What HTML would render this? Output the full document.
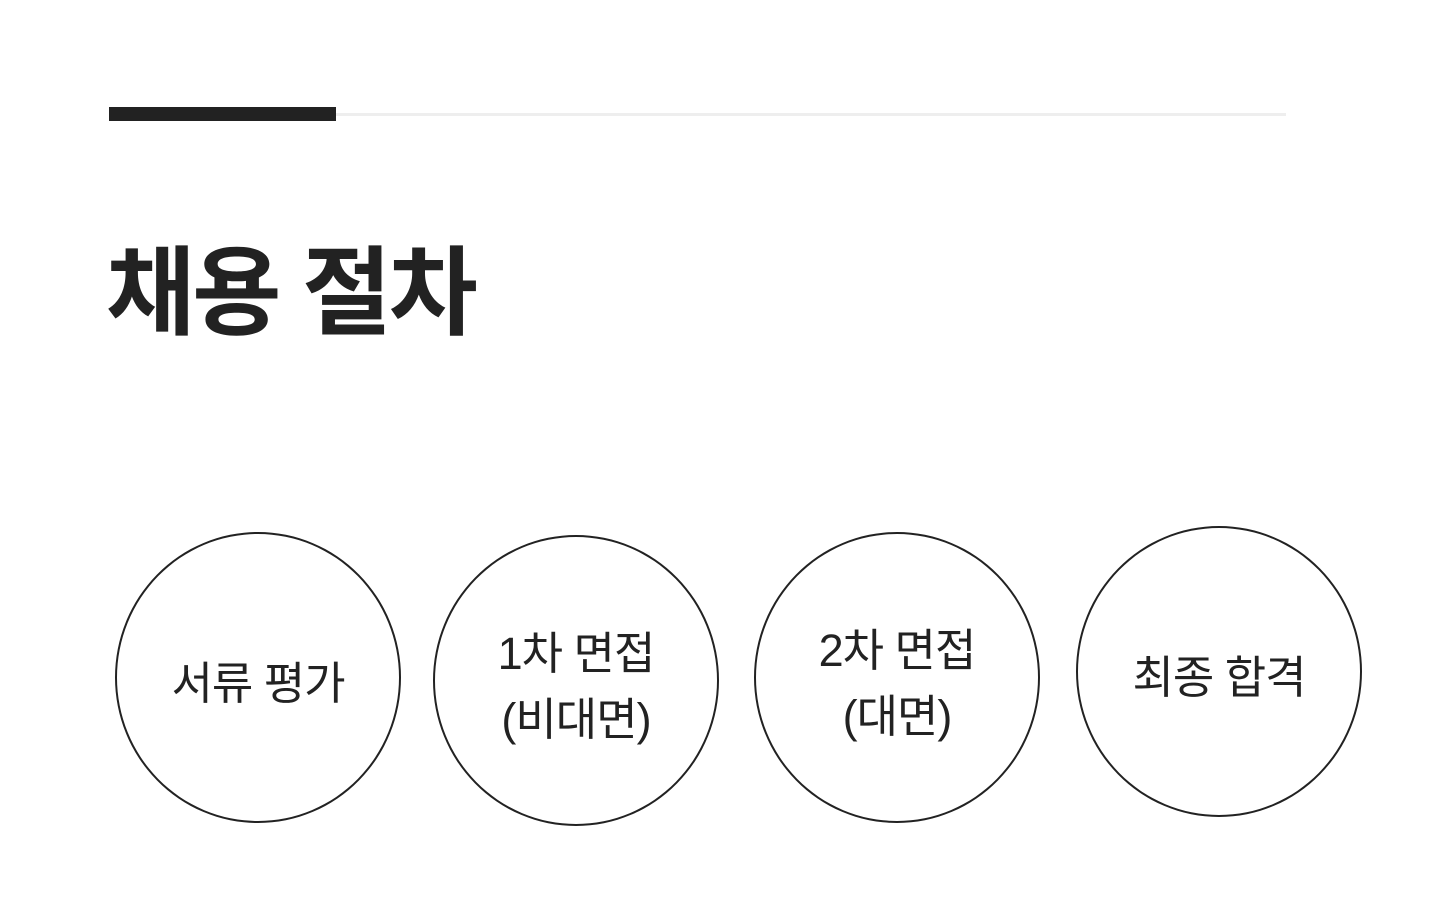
<!DOCTYPE html>
<html><head><meta charset="utf-8"><style>
html,body{margin:0;padding:0;background:#fff;}
body{width:1440px;height:900px;position:relative;overflow:hidden;font-family:"Liberation Sans","Noto Sans CJK KR","NanumGothic",sans-serif;color:#222;}
.bar{position:absolute;left:109px;top:107px;width:227px;height:14px;background:#222;}
.line{position:absolute;left:336px;top:113px;width:950px;height:3px;background:#eeeeee;}
h1{position:absolute;left:106px;top:236px;margin:0;font-size:97px;font-weight:700;letter-spacing:-3px;line-height:1.2;white-space:nowrap;}
.c{position:absolute;width:282px;height:275px;border:2px solid #222;border-radius:50%;display:flex;align-items:center;justify-content:center;text-align:center;font-size:45px;line-height:66px;letter-spacing:-1px;padding-top:12px;box-sizing:content-box;}
</style></head><body>
<div class="bar"></div><div class="line"></div>
<h1>채용 절차</h1>
<div class="c" style="left:115px;top:532px;">서류 평가</div>
<div class="c" style="left:433px;top:535px;">1차 면접<br>(비대면)</div>
<div class="c" style="left:754px;top:532px;">2차 면접<br>(대면)</div>
<div class="c" style="left:1076px;top:526px;">최종 합격</div>
</body></html>
